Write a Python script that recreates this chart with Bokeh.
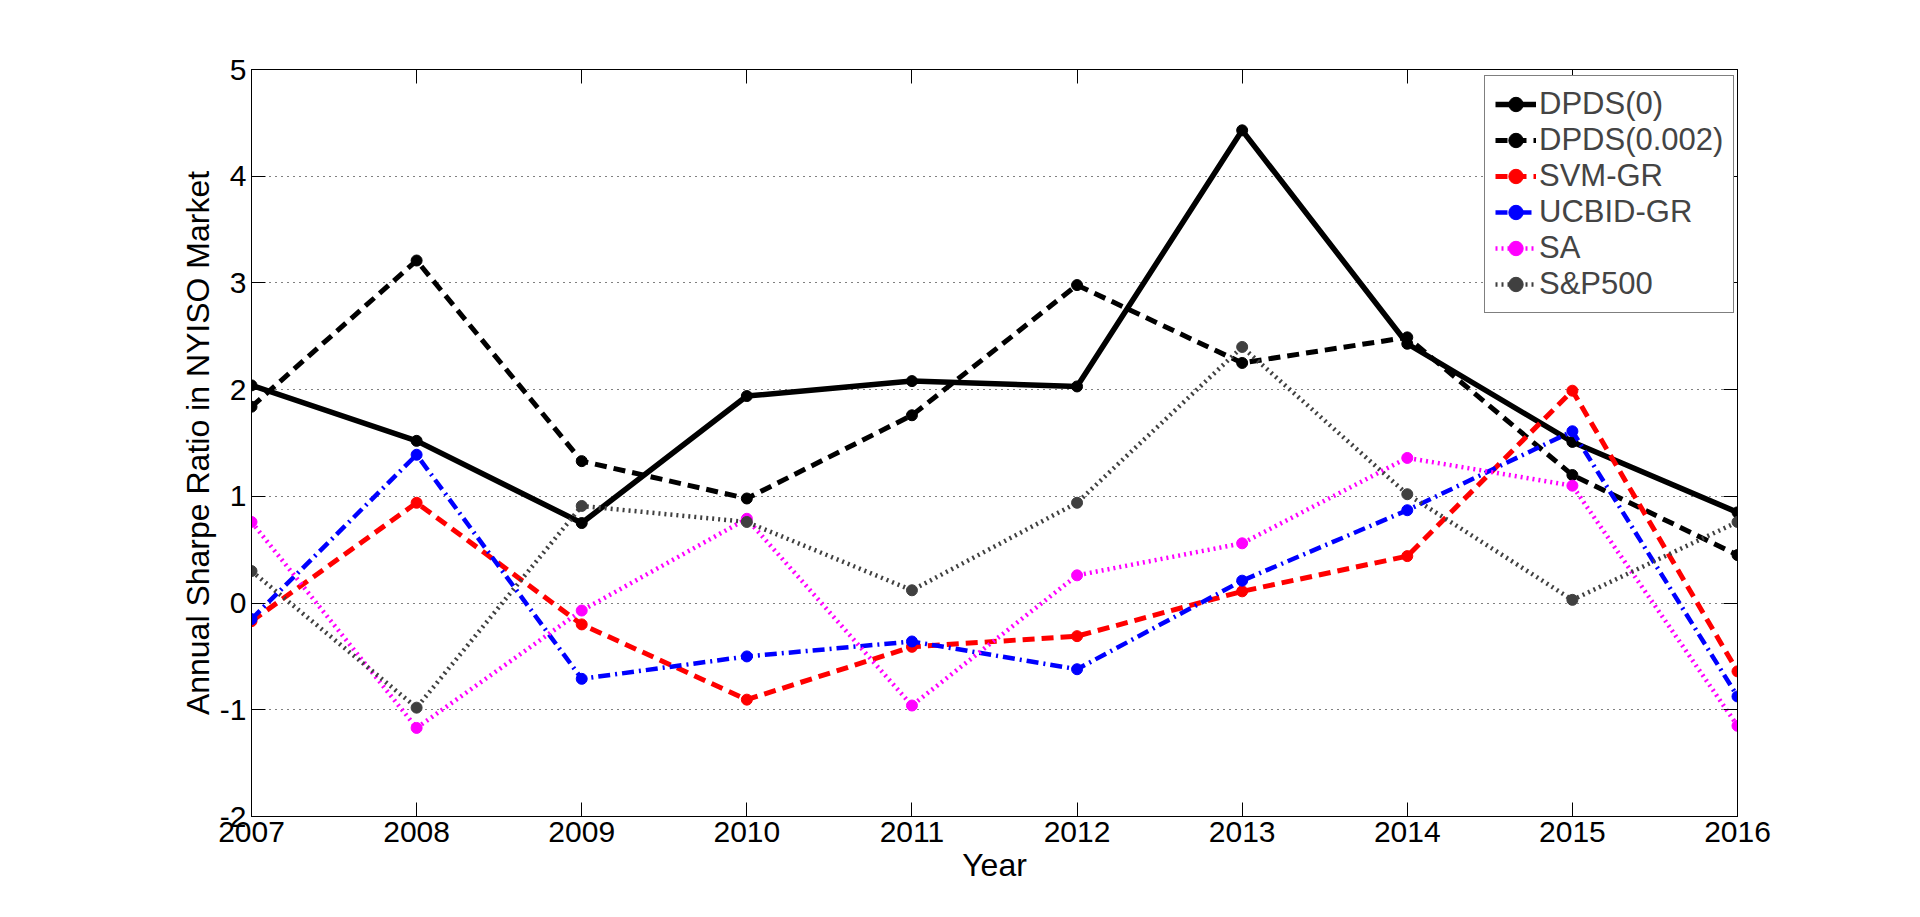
from bokeh.plotting import figure
from bokeh.models import (LinearAxis, FixedTicker, Legend, LegendItem, Range1d)
from bokeh.embed import file_html
from bokeh.resources import INLINE

years = [2007, 2008, 2009, 2010, 2011, 2012, 2013, 2014, 2015, 2016]
dpds0 = [2.04, 1.52, 0.75, 1.94, 2.08, 2.03, 4.43, 2.43, 1.51, 0.85]
dpds002 = [1.84, 3.21, 1.33, 0.98, 1.76, 2.98, 2.25, 2.49, 1.20, 0.45]
svm_gr = [-0.17, 0.94, -0.20, -0.905, -0.41, -0.31, 0.11, 0.44, 1.99, -0.64]
ucbid_gr = [-0.15, 1.39, -0.71, -0.50, -0.36, -0.62, 0.21, 0.87, 1.61, -0.875]
sa = [0.76, -1.17, -0.07, 0.79, -0.96, 0.26, 0.56, 1.36, 1.10, -1.15]
sp500 = [0.30, -0.98, 0.91, 0.76, 0.12, 0.94, 2.40, 1.02, 0.03, 0.76]

series_names = ["DPDS(0)", "DPDS(0.002)", "SVM-GR", "UCBID-GR", "SA", "S&P500"]
y_ticks = [-2, -1, 0, 1, 2, 3, 4, 5]
y_tick_labels = ["-2", "-1", "0", "1", "2", "3", "4", "5"]
x_tick_labels = [str(y) for y in years]

FONT = "Liberation Sans"

p = figure(width=1899, height=898, output_backend="svg", toolbar_location=None,
           x_range=Range1d(2007, 2016), y_range=Range1d(-2, 5),
           min_border_left=251, min_border_right=162, min_border_top=69,
           min_border_bottom=82)
p.background_fill_color = "white"
p.border_fill_color = "white"
p.outline_line_color = "black"
p.outline_line_width = 1

for ax in (p.xaxis[0], p.yaxis[0]):
    ax.major_tick_in = 14
    ax.major_tick_out = 0
    ax.minor_tick_line_color = None
    ax.axis_line_color = "black"
    ax.major_tick_line_color = "black"
    ax.major_label_text_font = FONT
    ax.major_label_text_font_size = "30px"
    ax.major_label_text_color = "black"
    ax.axis_label_text_font = FONT
    ax.axis_label_text_font_size = "32px"
    ax.axis_label_text_font_style = "normal"
    ax.axis_label_text_color = "black"

p.xaxis[0].ticker = FixedTicker(ticks=years)
p.xaxis[0].major_label_overrides = dict(zip(years, x_tick_labels))
p.yaxis[0].ticker = FixedTicker(ticks=y_ticks)
p.yaxis[0].major_label_overrides = dict(zip(y_ticks, y_tick_labels))
p.xaxis[0].axis_label = "Year"
p.yaxis[0].axis_label = "Annual Sharpe Ratio in NYISO Market"
p.xaxis[0].major_label_standoff = 5
p.xaxis[0].axis_label_standoff = 2
p.yaxis[0].major_label_standoff = 5
p.yaxis[0].axis_label_standoff = 1

top_ax = LinearAxis(ticker=FixedTicker(ticks=years), major_tick_in=14, major_tick_out=0,
                    minor_tick_line_color=None,
                    major_label_overrides={t: "" for t in years})
right_ax = LinearAxis(ticker=FixedTicker(ticks=y_ticks), major_tick_in=14, major_tick_out=0,
                      minor_tick_line_color=None,
                      major_label_overrides={t: "" for t in y_ticks})
p.add_layout(top_ax, "above")
p.add_layout(right_ax, "right")

p.xgrid.visible = False
p.ygrid.ticker = FixedTicker(ticks=y_ticks)
p.ygrid.grid_line_color = "black"
p.ygrid.grid_line_dash = "1 5"
p.ygrid.grid_line_width = 1

styles = [
    (dpds0, "black", "solid", 5.5),
    (dpds002, "black", "12 7", 5),
    (svm_gr, "#ff0000", "12 7", 5),
    (ucbid_gr, "#0000ff", "12 5 2 5", 4.5),
    (sa, "#ff00ff", "2 4", 4.5),
    (sp500, "#404040", "2 4", 4.5),
]

items = []
for name, (vals, color, dash, lw) in zip(series_names, styles):
    r1 = p.line(years, vals, line_color=color, line_dash=dash, line_width=lw)
    r2 = p.scatter(years, vals, marker="circle", size=11, fill_color=color, line_color=color)
    items.append(LegendItem(label=name, renderers=[r1, r2]))

legend = Legend(items=items, location=(1233, 503), orientation="vertical",
                label_text_font=FONT, label_text_font_size="31px",
                label_height=36, glyph_height=36, glyph_width=41,
                label_standoff=3, spacing=0, padding=10, margin=0,
                border_line_color="black", border_line_width=1,
                background_fill_color="white", background_fill_alpha=1)
p.add_layout(legend, "center")

open("out.html", "w").write(file_html(p, INLINE))
